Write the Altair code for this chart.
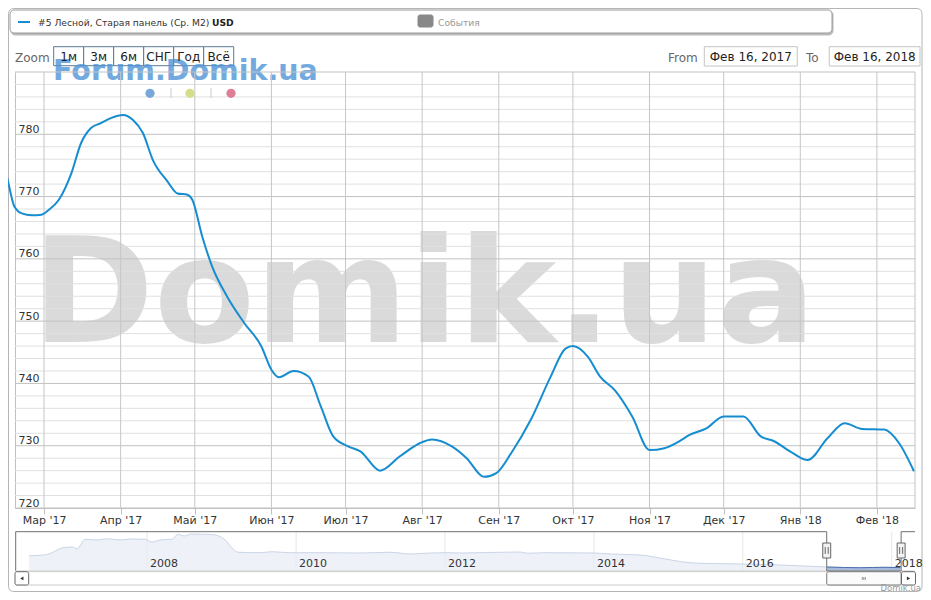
import altair as alt
import pandas as pd

# ---------------- data ----------------
main_dates = ["2017-02-11", "2017-02-14", "2017-02-17", "2017-02-20", "2017-02-24", "2017-02-28",
              "2017-03-03", "2017-03-07", "2017-03-12", "2017-03-16", "2017-03-20", "2017-03-24",
              "2017-03-28", "2017-04-02", "2017-04-06", "2017-04-10", "2017-04-14", "2017-04-20",
              "2017-04-24", "2017-04-28", "2017-04-30", "2017-05-04", "2017-05-08", "2017-05-14",
              "2017-05-21", "2017-05-28", "2017-06-01", "2017-06-04", "2017-06-10", "2017-06-16",
              "2017-06-21", "2017-06-26", "2017-07-02", "2017-07-07", "2017-07-15", "2017-07-23",
              "2017-07-31", "2017-08-05", "2017-08-13", "2017-08-19", "2017-08-26", "2017-08-31",
              "2017-09-06", "2017-09-14", "2017-09-22", "2017-09-28", "2017-10-01", "2017-10-07",
              "2017-10-12", "2017-10-18", "2017-10-25", "2017-11-01", "2017-11-07", "2017-11-13",
              "2017-11-17", "2017-11-24", "2017-12-01", "2017-12-09", "2017-12-16", "2017-12-21",
              "2017-12-29", "2018-01-04", "2018-01-12", "2018-01-19", "2018-01-26", "2018-02-04",
              "2018-02-10", "2018-02-16"]
main_values = [778.0, 773.2, 768.4, 767.3, 767.0, 767.1,
               767.9, 769.5, 773.7, 778.6, 781.0, 781.8,
               782.6, 783.1, 782.3, 780.2, 775.9, 772.4,
               770.5, 770.3, 769.5, 763.6, 758.8, 754.0,
               749.7, 745.9, 742.2, 741.0, 742.0, 741.1,
               736.3, 731.5, 729.9, 729.1, 726.0, 728.3,
               730.4, 731.0, 729.9, 728.0, 725.0, 725.6,
               728.8, 734.2, 741.1, 745.6, 746.0, 744.3,
               741.1, 738.9, 734.7, 729.3, 729.6, 730.7,
               731.7, 732.8, 734.7, 734.7, 731.5, 730.8,
               728.8, 727.7, 731.2, 733.6, 732.7, 732.6,
               730.4, 725.9]

nav_dates = ["2006-06-01", "2006-07-24", "2006-09-11", "2006-10-16", "2006-11-14", "2006-12-29",
             "2007-01-23", "2007-03-03", "2007-05-01", "2007-06-19", "2007-08-21", "2007-10-09",
             "2007-12-22", "2008-01-25", "2008-03-14", "2008-05-02", "2008-06-01", "2008-07-01",
             "2008-08-04", "2008-10-12", "2008-11-30", "2009-01-18", "2009-02-26", "2009-03-23",
             "2009-07-08", "2009-09-05", "2009-12-02", "2010-04-28", "2010-11-11", "2011-04-07",
             "2011-07-14", "2011-09-26", "2012-01-01", "2012-03-15", "2012-06-22", "2013-01-04",
             "2013-02-08", "2013-05-07", "2013-12-28", "2014-03-20", "2014-08-15", "2014-11-21",
             "2015-03-14", "2015-06-06", "2016-01-03", "2016-07-02", "2016-11-27", "2017-02-18",
             "2017-07-30", "2017-11-29", "2018-02-12"]
nav_values = [1135, 1150, 1205, 1335, 1415, 1440,
              1380, 1710, 1685, 1730, 1685, 1720,
              1710, 1615, 1695, 1710, 1885, 1825,
              1895, 1885, 1860, 1685, 1370, 1255,
              1240, 1275, 1240, 1240, 1230, 1255,
              1195, 1220, 1240, 1230, 1240, 1265,
              1220, 1240, 1230, 1195, 1160, 1055,
              915, 870, 845, 810, 765, 740,
              715, 730, 720]

month_ticks = ["2017-03-01", "2017-04-01", "2017-05-01", "2017-06-01", "2017-07-01", "2017-08-01",
               "2017-09-01", "2017-10-01", "2017-11-01", "2017-12-01", "2018-01-01", "2018-02-01"]
month_names = ["Янв", "Фев", "Мар", "Апр", "Май", "Июн", "Июл", "Авг", "Сен", "Окт", "Ноя", "Дек"]
y_major = [720, 730, 740, 750, 760, 770, 780, 790]
y_minor = [722, 724, 726, 728, 732, 734, 736, 738, 742, 744, 746, 748, 752, 754, 756, 758,
           762, 764, 766, 768, 772, 774, 776, 778, 782, 784, 786, 788]
y_labels = [720, 730, 740, 750, 760, 770, 780]
nav_year_dates = ["2008-01-01", "2010-01-01", "2012-01-01", "2014-01-01", "2016-01-01", "2018-01-01"]
nav_year_labels = ["2008", "2010", "2012", "2014", "2016", "2018"]
sel_start, sel_end = "2017-02-16", "2018-02-16"
zoom_buttons = ["1м", "3м", "6м", "СНГ", "Год", "Всё"]
series_name = "#5 Лесной, Старая панель (Ср. М2)"

# ---------------- tables ----------------
main_df = pd.DataFrame({"date": main_dates, "value": main_values})
nav_df = pd.DataFrame({"date": nav_dates, "value": nav_values})
ticks_df = pd.DataFrame({"date": month_ticks})
major_df = pd.DataFrame({"v": y_major})
minor_df = pd.DataFrame({"v": y_minor})
years_df = pd.DataFrame({"date": nav_year_dates, "label": nav_year_labels})
sel_df = pd.DataFrame({"start": [sel_start], "end": [sel_end]})
bounds_df = pd.DataFrame({"d": [sel_start, sel_end]})
mid = pd.Timestamp(sel_start) + (pd.Timestamp(sel_end) - pd.Timestamp(sel_start)) / 2
mid_df = pd.DataFrame({"d": [mid.strftime("%Y-%m-%d")]})
one = pd.DataFrame({"k": [0]})

W, H = 900, 436
BLUE = "#168dd0"
FONT = "DejaVu Sans"


def dt(s, hours=0):
    t = pd.Timestamp(s)
    return alt.DateTime(year=t.year, month=t.month, date=t.day, hours=hours, utc=True)


main_x = alt.Scale(type="utc", domain=[dt("2017-02-17", 6), dt("2018-02-16", 10)])
main_y = alt.Scale(domain=[720, 790], nice=False, zero=False)
nav_x = alt.Scale(type="utc", domain=[dt("2006-03-24"), dt("2018-04-25")])
nav_y = alt.Scale(domain=[600, 1975], range=[499, 459.7], nice=False, zero=False)


def txt(s, x, y, size=12, color="#333333", weight="normal", align="left", opacity=1.0):
    return alt.Chart(one).mark_text(text=s, fontSize=size, color=color, fontWeight=weight,
                                    align=align, baseline="alphabetic", font=FONT,
                                    opacity=opacity).encode(x=alt.value(x), y=alt.value(y))


def box(x1, y1, x2, y2, fill="#ffffff", stroke="#999999", r=0, fo=1.0, sw=1):
    return alt.Chart(one).mark_rect(fill=fill, fillOpacity=fo, stroke=stroke, strokeWidth=sw,
                                    cornerRadius=r).encode(
        x=alt.value(x1), x2=alt.value(x2), y=alt.value(y1), y2=alt.value(y2))


def hline(x1, x2, y, color="#cccccc", sw=1):
    return alt.Chart(one).mark_rule(color=color, strokeWidth=sw).encode(
        x=alt.value(x1), x2=alt.value(x2), y=alt.value(y))


def vline(x, y1, y2, color="#cccccc", sw=1):
    return alt.Chart(one).mark_rule(color=color, strokeWidth=sw).encode(
        x=alt.value(x), y=alt.value(y1), y2=alt.value(y2))


layers = []

# outer frame
layers.append(box(-6.5, -63.5, 907, 519.5, fill="#ffffff", stroke="#b5b5b5", r=5, fo=0))

# legend
layers.append(box(-4, -61, 818, -37, fill="#bbbbbb", stroke="#bbbbbb", r=4))
layers.append(box(-5, -62, 817, -39, fill="#ffffff", stroke="#9a9a9a", r=4))
layers.append(hline(3, 15, -50, color=BLUE, sw=2))
layers.append(txt(series_name, 23, -46, size=9.2, color="#333333"))
layers.append(txt("USD", 197, -46, size=9.2, color="#222222", weight="bold"))
layers.append(box(403, -57, 418, -45, fill="#888888", stroke="#888888", r=2))
layers.append(txt("События", 423, -46, size=9.2, color="#999999"))

# range selector
layers.append(txt("Zoom", 0, -10.5, size=12, color="#666666"))
for i, lab in enumerate(zoom_buttons):
    layers.append(box(38.7 + 30 * i, -25.3, 68.7 + 30 * i, -6.3, fill="#ffffff", stroke="#5a7896"))
layers.append(txt("Forum.Domik.ua", 38, 8, size=28.5, color="#4f95d8", weight="bold", opacity=0.8))
for i, lab in enumerate(zoom_buttons):
    layers.append(txt(lab, 53.7 + 30 * i, -11, size=12, color="#222222", align="center"))
layers.append(txt("From", 653, -10.5, size=12, color="#666666"))
layers.append(box(689.3, -25.3, 782.3, -6, fill="#ffffff", stroke="#c4c4c4"))
layers.append(txt("Фев 16, 2017", 735.8, -11, size=12, color="#222222", align="center"))
layers.append(txt("To", 791, -10.5, size=12, color="#666666"))
layers.append(box(814.3, -25.3, 905, -6, fill="#ffffff", stroke="#c4c4c4"))
layers.append(txt("Фев 16, 2018", 859.7, -11, size=12, color="#222222", align="center"))

# big watermark
layers.append(txt("Domik.ua", 17, 269.7, size=147, color="#dadada", weight="bold"))

# grid
layers.append(alt.Chart(minor_df).mark_rule(color="#e0e0e0").encode(
    y=alt.Y("v:Q", scale=main_y, axis=None), x=alt.value(0), x2=alt.value(W)))
layers.append(alt.Chart(major_df).mark_rule(color="#c2c2c2").encode(
    y=alt.Y("v:Q", scale=main_y, axis=None), x=alt.value(0), x2=alt.value(W)))
layers.append(alt.Chart(ticks_df).mark_rule(color="#c6c6c6").encode(
    x=alt.X("date:T", scale=main_x, axis=None), y=alt.value(0), y2=alt.value(H)))
layers.append(vline(W, 0, H, color="#c2c2c2"))

# colored dots of the watermark
for xx, col in [(135, "#7aa7d9"), (175, "#d5dc8b"), (216, "#de7f97")]:
    layers.append(alt.Chart(one).mark_point(filled=True, size=85, color=col, opacity=1).encode(
        x=alt.value(xx), y=alt.value(21.3)))
layers.append(vline(156, 16, 26, color="#cccccc"))
layers.append(vline(196, 16, 26, color="#cccccc"))

# main line
label_expr = ("[" + ",".join("'%s'" % m for m in month_names) + "][utcmonth(datum.value)]"
              " + \" '\" + utcFormat(datum.value, '%y')")
layers.append(alt.Chart(main_df).mark_line(interpolate="monotone", color=BLUE, strokeWidth=2).encode(
    x=alt.X("date:T", scale=main_x, title=None,
            axis=alt.Axis(values=[dt(m) for m in month_ticks], labelExpr=label_expr, grid=False,
                          domainColor="#c0c0c0", tickColor="#c0c0c0", tickSize=6, labelPadding=0,
                          labelFontSize=11, labelColor="#333333", labelFont=FONT, labelFlush=False,
                          labelOverlap=False)),
    y=alt.Y("value:Q", scale=main_y, title=None,
            axis=alt.Axis(values=y_labels, grid=False, ticks=False, tickSize=0, labelAlign="left",
                          labelPadding=-3, labelBaseline="alphabetic", labelOffset=-2,
                          domainColor="#c0c0c0", labelFontSize=11, labelColor="#333333",
                          labelFont=FONT))))

# navigator
layers.append(alt.Chart(years_df).mark_rule(color="#e6e6e6").encode(
    x=alt.X("date:T", scale=nav_x, axis=None), y=alt.value(459.7), y2=alt.value(499)))
layers.append(alt.Chart(nav_df).mark_area(interpolate="monotone", color="#e7ecf5",
                                          line={"color": "#cbd5e7", "strokeWidth": 1}).encode(
    x=alt.X("date:T", scale=nav_x, axis=None),
    y=alt.Y("value:Q", scale=nav_y, axis=None, stack=None), y2=alt.datum(600)))
layers.append(alt.Chart(nav_df).transform_filter(
    alt.FieldGTEPredicate(field="date", gte=dt(sel_start))).mark_area(
    interpolate="monotone", color="#86a2d2", line={"color": "#4d6fab", "strokeWidth": 1}).encode(
    x=alt.X("date:T", scale=nav_x, axis=None),
    y=alt.Y("value:Q", scale=nav_y, axis=None, stack=None), y2=alt.datum(600)))
layers.append(alt.Chart(years_df).mark_text(align="left", dx=3, baseline="alphabetic", fontSize=11,
                                            color="#333333", font=FONT).encode(
    x=alt.X("date:T", scale=nav_x, axis=None), y=alt.value(494.7), text="label:N"))
OUT = "#6e6e6e"
layers.append(vline(0.7, 459.7, 499, color=OUT))
layers.append(hline(0.7, W, 499, color="#d0d0d0"))
layers.append(alt.Chart(sel_df).mark_rule(color=OUT).encode(
    x=alt.X("start:T", scale=nav_x, axis=None), x2=alt.value(0.7), y=alt.value(459.7)))
layers.append(alt.Chart(sel_df).mark_rule(color=OUT).encode(
    x=alt.X("end:T", scale=nav_x, axis=None), x2=alt.value(W), y=alt.value(459.7)))
layers.append(alt.Chart(sel_df).mark_rule(color=OUT).encode(
    x=alt.X("start:T", scale=nav_x, axis=None), x2="end:T", y=alt.value(499)))
layers.append(alt.Chart(bounds_df).mark_rule(color=OUT).encode(
    x=alt.X("d:T", scale=nav_x, axis=None), y=alt.value(459.7), y2=alt.value(499)))

# scrollbar
layers.append(box(0.7, 499.7, W, 513, fill="#ffffff", stroke="#cccccc"))
layers.append(alt.Chart(sel_df).mark_rect(fill="#fbfbfb", stroke="#777777", cornerRadius=2).encode(
    x=alt.X("start:T", scale=nav_x, axis=None), x2="end:T", y=alt.value(499.7), y2=alt.value(513)))
layers.append(alt.Chart(mid_df).mark_point(shape="M-1,-1V1M0,-1V1M1,-1V1", filled=False,
                                           size=9, color="#999999", strokeWidth=1, opacity=1).encode(
    x=alt.X("d:T", scale=nav_x, axis=None), y=alt.value(506.5)))
layers.append(box(0, 499.7, 13.7, 513, fill="#ffffff", stroke="#666666", r=2))
layers.append(box(886.5, 499.7, 900.5, 513, fill="#ffffff", stroke="#666666", r=2))
layers.append(alt.Chart(one).mark_point(shape="triangle-left", filled=True, size=14, color="#333333",
                                        opacity=1).encode(x=alt.value(6.8), y=alt.value(506.4)))
layers.append(alt.Chart(one).mark_point(shape="triangle-right", filled=True, size=14, color="#333333",
                                        opacity=1).encode(x=alt.value(893.5), y=alt.value(506.4)))

# navigator handles
layers.append(alt.Chart(bounds_df).mark_point(shape="M-0.53,-1H0.53V1H-0.53Z", filled=True, size=225,
                                              fill="#f2f2f2", stroke="#666666", strokeWidth=1,
                                              opacity=1).encode(
    x=alt.X("d:T", scale=nav_x, axis=None), y=alt.value(478.5)))
layers.append(alt.Chart(bounds_df).mark_point(shape="M-0.2,-0.45V0.45M0.2,-0.45V0.45", filled=False,
                                              size=225, color="#666666", strokeWidth=1,
                                              opacity=1).encode(
    x=alt.X("d:T", scale=nav_x, axis=None), y=alt.value(478.5)))

# credit
layers.append(txt("Domik.ua", 906, 518.8, size=8.5, color="#999999", align="right"))

chart = alt.layer(*layers).resolve_scale(x="independent", y="independent").properties(
    width=W, height=H,
    padding={"left": 7, "top": 64, "right": 8, "bottom": 84},
    autosize=alt.AutoSizeParams(type="none"),
    background="#ffffff",
).configure_view(stroke=None)

chart.save("out.html", embed_options={"renderer": "svg", "actions": False})
